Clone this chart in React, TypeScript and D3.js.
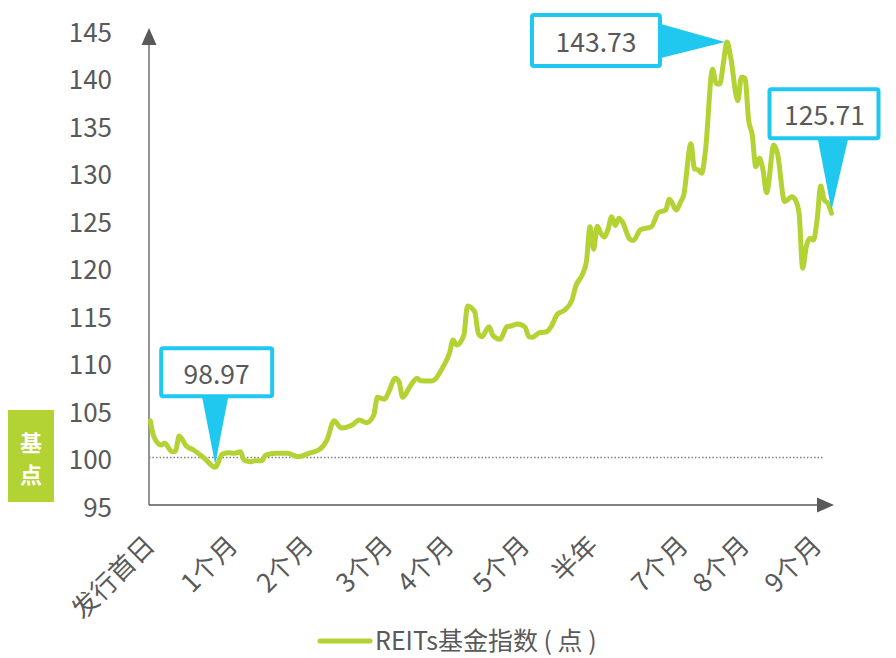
import React from "react";
import * as d3 from "d3";

const days: number[] = [
  0, 1, 3, 4, 6, 7, 8, 10, 12, 15, 18, 20, 22, 23, 25, 26, 28, 29, 31, 32, 35, 38, 41, 44, 47, 49, 51, 53, 56, 58,
  60, 62, 63, 65, 66, 68, 69, 70, 72, 74, 75, 78, 79, 81, 83, 84, 85, 87, 88, 90, 91, 92, 94, 95, 97, 99, 100, 102,
  104, 105, 106, 108, 110, 111, 113, 115, 117, 118, 120, 121, 122, 123, 124, 125, 126, 127, 128, 129, 130, 131, 133,
  134, 136, 139, 141, 143, 144, 146, 147, 148, 150, 151, 152, 153, 154, 156, 157, 158, 159, 160, 161, 163, 164, 165,
  166, 167, 168, 169, 170, 171, 173, 174, 176, 178, 179, 180, 181, 182, 183, 184, 185, 186, 187, 188, 189,
];

const values: number[] = [
  103.87, 102.19, 101.32, 101.49, 100.61, 100.68, 102.26, 101.21, 100.79, 99.92, 98.97, 100.37, 100.51, 100.44,
  100.61, 99.74, 99.56, 99.66, 99.66, 100.26, 100.44, 100.44, 100.08, 100.44, 100.86, 101.84, 103.87, 103.1, 103.42,
  103.95, 103.66, 104.47, 106.34, 106.13, 106.76, 108.34, 107.98, 106.34, 107.45, 108.34, 108.08, 108.05, 108.23,
  109.39, 110.97, 112.37, 111.84, 112.89, 115.95, 115.35, 113.07, 112.72, 113.77, 112.89, 112.44, 113.77, 113.84,
  114.05, 113.71, 112.72, 112.65, 113.14, 113.24, 113.66, 115.11, 115.53, 116.58, 117.98, 119.37, 120.61, 124.29,
  121.92, 124.34, 123.6, 123.21, 124.02, 125.35, 124.42, 125.18, 124.79, 123.0, 122.84, 123.98, 124.29, 125.79,
  126.05, 127.18, 126.05, 126.79, 127.63, 133.03, 130.37, 130.29, 129.92, 132.19, 140.86, 139.37, 139.32, 141.49,
  143.73, 142.19, 137.56, 140.02, 139.92, 135.53, 133.95, 130.61, 131.49, 130.26, 127.87, 132.89, 132.02, 126.93,
  127.45, 127.1, 125.71, 119.92, 122.19, 123.07, 122.89, 125.0, 128.58, 127.1, 126.76, 125.71,
];

const xLabels: string[] = ["发行首日", "1个月", "2个月", "3个月", "4个月", "5个月", "半年", "7个月", "8个月", "9个月"];
const xLabelDays: number[] = [0, 23, 44, 66, 83, 104, 123, 148, 165, 185];
const yTicks: number[] = [95, 100, 105, 110, 115, 120, 125, 130, 135, 140, 145];
const baseValue = 100;
const seriesName = "REITs基金指数 ( 点 )";
const yTitle: string[] = ["基", "点"];

const W = 896;
const H = 658;
const LINE = "#b3d234";
const CYAN = "#20c8f0";
const TEXT = "#595959";
const FONT = "'Noto Sans CJK SC', 'Noto Sans', sans-serif";

export default function App() {
  const x = d3.scaleLinear().domain([0, 189]).range([150.3, 831.5]);
  const y = d3.scaleLinear().domain([95, 145]).range([505, 30]);
  const pts = days.map((d, i) => [d, values[i]] as [number, number]);
  const line = d3
    .line<[number, number]>()
    .x((d) => x(d[0]))
    .y((d) => y(d[1]))
    .curve(d3.curveMonotoneX);

  const axisX0 = x(0) - 1.3;
  const axisY0 = y(95);

  const minI = values.indexOf(d3.min(values)!);
  const maxI = values.indexOf(d3.max(values)!);
  const lastI = values.length - 1;
  const pMin = [x(days[minI]), y(values[minI])];
  const pMax = [x(days[maxI]), y(values[maxI])];
  const pLast = [x(days[lastI]), y(values[lastI])];

  const fmt = (v: number) => v.toFixed(2);

  return (
    <svg
      width={W}
      height={H}
      style={{ position: "absolute", left: 0, top: 0, background: "#fff" }}
      fontFamily={FONT}
    >
      {yTicks.map((t) => (
        <text key={t} x={112} y={y(t)} textAnchor="end" dominantBaseline="central" fontSize={26} fill={TEXT}>
          {t}
        </text>
      ))}
      <line x1={axisX0} y1={axisY0} x2={axisX0} y2={42} stroke={TEXT} strokeWidth={1.3} />
      <path d={`M${axisX0},28 L${axisX0 + 7.5},45 L${axisX0 - 7.5},45 Z`} fill={TEXT} />
      <line x1={axisX0} y1={axisY0} x2={820} y2={axisY0} stroke={TEXT} strokeWidth={1.3} />
      <path d={`M834,${axisY0} L817,${axisY0 - 7.5} L817,${axisY0 + 7.5} Z`} fill={TEXT} />
      <line
        x1={axisX0}
        x2={823}
        y1={y(baseValue)}
        y2={y(baseValue)}
        stroke="#7f7f7f"
        strokeWidth={1.3}
        strokeDasharray="1.5 2"
      />
      {xLabels.map((l, i) => {
        const tx = x(xLabelDays[i]) + 6;
        const ty = 547;
        return (
          <text
            key={l}
            x={tx}
            y={ty}
            textAnchor="end"
            fontSize={26}
            fill={TEXT}
            transform={`rotate(-45 ${tx} ${ty})`}
          >
            {l}
          </text>
        );
      })}
      <path d={line(pts) || ""} fill="none" stroke={LINE} strokeWidth={5} strokeLinejoin="round" strokeLinecap="round" />

      <path d={`M${pMin[0] - 13},${pMin[1] - 70} L${pMin[0] + 13},${pMin[1] - 70} L${pMin[0]},${pMin[1] - 3} Z`} fill={CYAN} />
      <rect x={pMin[0] - 54} y={pMin[1] - 119} width={111} height={48} rx={2} fill="#fff" stroke={CYAN} strokeWidth={4} />
      <text x={pMin[0] + 1.5} y={pMin[1] - 95} textAnchor="middle" dominantBaseline="central" fontSize={26.5} fill={TEXT}>
        {fmt(values[minI])}
      </text>

      <path d={`M${pMax[0] - 66},${pMax[1] - 18} L${pMax[0] - 66},${pMax[1] + 16} L${pMax[0] - 2},${pMax[1]} Z`} fill={CYAN} />
      <rect x={pMax[0] - 195} y={pMax[1] - 27} width={128} height={51} rx={2} fill="#fff" stroke={CYAN} strokeWidth={4} />
      <text x={pMax[0] - 131} y={pMax[1] - 1.5} textAnchor="middle" dominantBaseline="central" fontSize={26.5} fill={TEXT}>
        {fmt(values[maxI])}
      </text>

      <path d={`M${pLast[0] - 14},${pLast[1] - 76} L${pLast[0] + 17},${pLast[1] - 76} L${pLast[0]},${pLast[1] - 3} Z`} fill={CYAN} />
      <rect x={pLast[0] - 62} y={pLast[1] - 124} width={109} height={49} rx={2} fill="#fff" stroke={CYAN} strokeWidth={4} />
      <text x={pLast[0] - 7} y={pLast[1] - 100} textAnchor="middle" dominantBaseline="central" fontSize={26.5} fill={TEXT}>
        {fmt(values[lastI])}
      </text>

      <rect x={8} y={410} width={46} height={92} fill={LINE} />
      {yTitle.map((c, i) => (
        <text key={c} x={31} y={441 + i * 32} textAnchor="middle" dominantBaseline="central" fontSize={22} fontWeight="bold" fill="#fff">
          {c}
        </text>
      ))}

      <line x1={320} x2={370} y1={641} y2={641} stroke={LINE} strokeWidth={5} strokeLinecap="round" />
      <text x={375} y={639} dominantBaseline="central" fontSize={25} fill={TEXT}>
        {seriesName}
      </text>
    </svg>
  );
}
